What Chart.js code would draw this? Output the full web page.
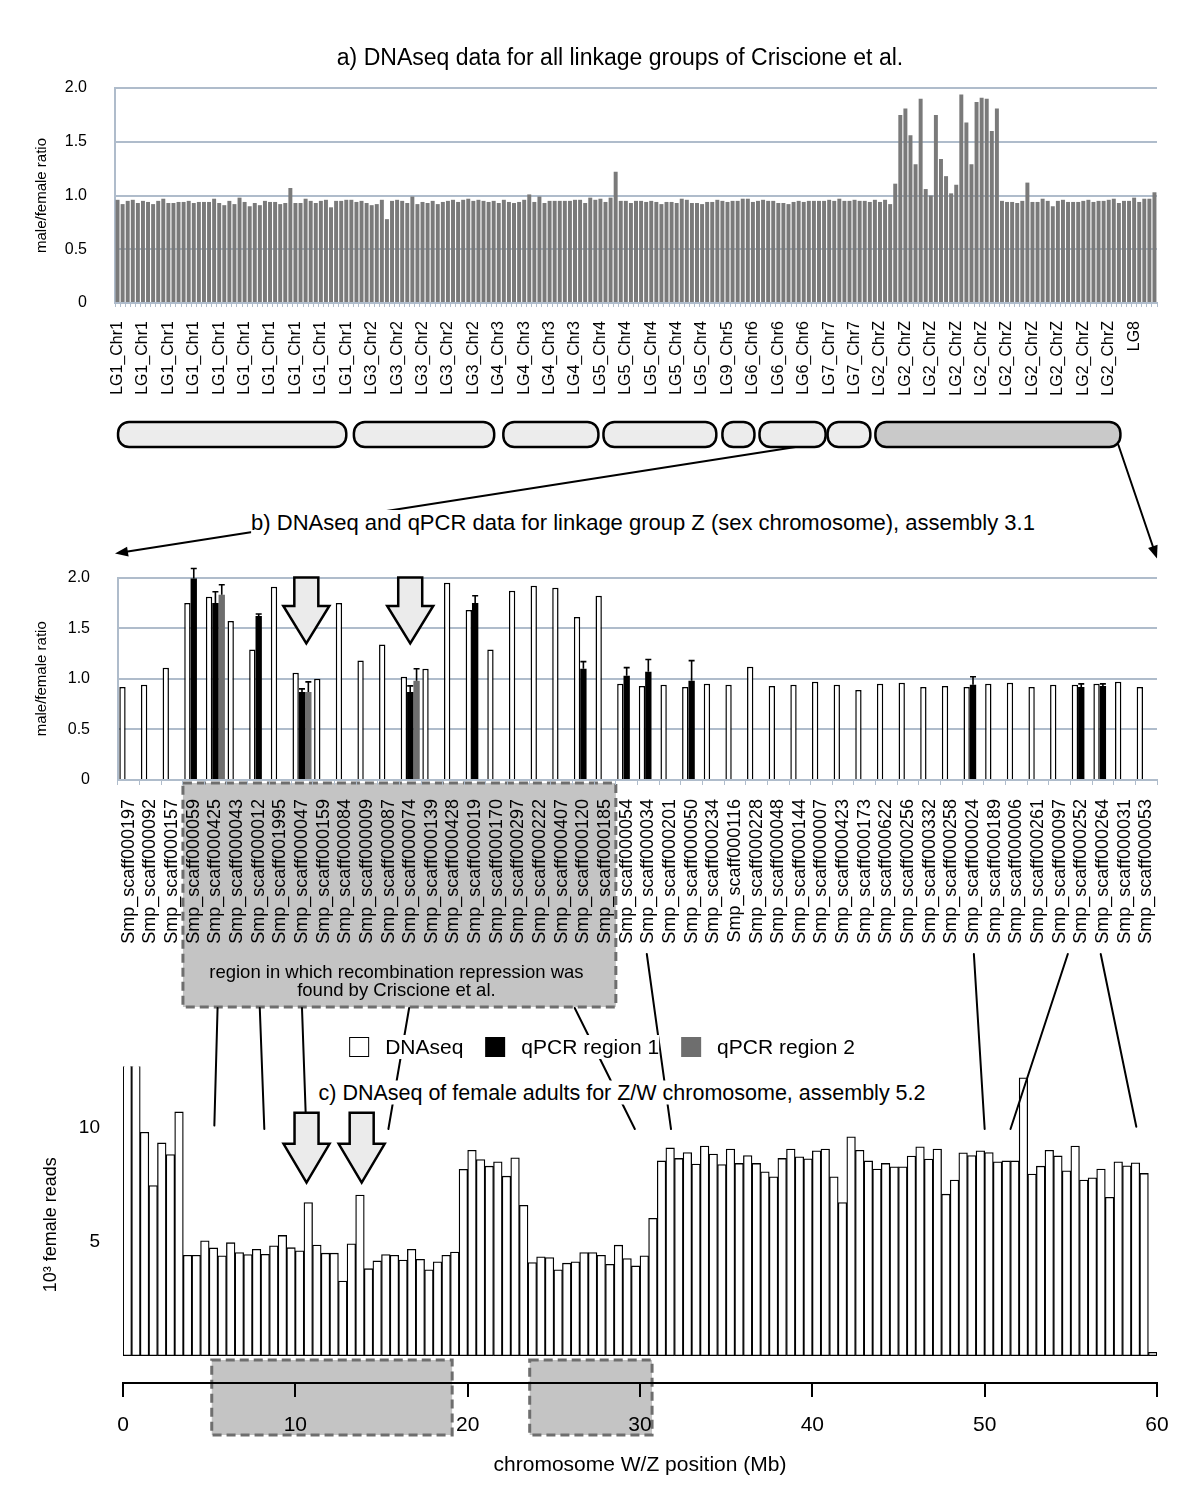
<!DOCTYPE html>
<html>
<head>
<meta charset="utf-8">
<script src="https://cdn.jsdelivr.net/npm/chart.js@4.4.0/dist/chart.umd.min.js"></script>
<style>
  body { margin: 0; background: #fff; font-family: "Liberation Sans", Arial, sans-serif; }
  #page { position: relative; width: 1200px; height: 1500px; overflow: hidden; }
  canvas { position: absolute; left: 0; }
  #overlay { z-index: 2; }
  .txt { position: absolute; transform: translate(-50%, -50%); white-space: nowrap; z-index: 3; font-size: 22px; color: #000; }
  .txt span { background: #fff; }
  .legend { display: flex; align-items: center; font-size: 21px; }
  .sw { display: inline-block; width: 20px; height: 20px; box-sizing: border-box; margin-right: 16px; }
  .item { display: flex; align-items: center; background: #fff; margin-right: 22px; }
</style>
</head>
<body>
<div id="page">
  <canvas id="chartA" width="1200" height="420" style="top:0px"></canvas>
  <canvas id="chartB" width="1200" height="480" style="top:540px"></canvas>
  <canvas id="chartC" width="1200" height="460" style="top:1040px"></canvas>
  <canvas id="overlay" width="1200" height="1500" style="top:0px"></canvas>

  <div class="txt" style="left:620px;top:57px;font-size:23px"><span>a) DNAseq data for all linkage groups of Criscione et al.</span></div>
  <div class="txt" style="left:643px;top:523px"><span>b) DNAseq and qPCR data for linkage group Z (sex chromosome), assembly 3.1</span></div>
  <div class="txt legend" style="left:602px;top:1047px">
    <div class="item"><i class="sw" style="background:#fff;border:1.5px solid #000"></i>DNAseq</div>
    <div class="item"><i class="sw" style="background:#000"></i>qPCR region 1</div>
    <div class="item" style="margin-right:0"><i class="sw" style="background:#6e6e6e"></i>qPCR region 2</div>
  </div>
  <div class="txt" style="left:622px;top:1093px;font-size:21.5px"><span>c) DNAseq of female adults for Z/W chromosome, assembly 5.2</span></div>
</div>

<script>
// ---- a) one label every 5 bars
const lgLabels = [
  'LG1_Chr1','LG1_Chr1','LG1_Chr1','LG1_Chr1','LG1_Chr1','LG1_Chr1','LG1_Chr1','LG1_Chr1','LG1_Chr1','LG1_Chr1',
  'LG3_Chr2','LG3_Chr2','LG3_Chr2','LG3_Chr2','LG3_Chr2',
  'LG4_Chr3','LG4_Chr3','LG4_Chr3','LG4_Chr3',
  'LG5_Chr4','LG5_Chr4','LG5_Chr4','LG5_Chr4','LG5_Chr4',
  'LG9_Chr5',
  'LG6_Chr6','LG6_Chr6','LG6_Chr6',
  'LG7_Chr7','LG7_Chr7',
  'LG2_ChrZ','LG2_ChrZ','LG2_ChrZ','LG2_ChrZ','LG2_ChrZ','LG2_ChrZ','LG2_ChrZ','LG2_ChrZ','LG2_ChrZ','LG2_ChrZ',
  'LG8'
];

// male/female ratio per contig (205 bars)
const ratioA = [
  0.96,0.92,0.95,0.96,0.93,0.95,0.94,0.92,0.95,0.97,
  0.93,0.93,0.94,0.94,0.95,0.93,0.94,0.94,0.94,0.97,
  0.93,0.91,0.95,0.92,0.98,0.94,0.90,0.93,0.91,0.95,
  0.94,0.94,0.92,0.93,1.07,0.93,0.93,0.97,0.95,0.93,
  0.95,0.96,0.89,0.95,0.95,0.96,0.96,0.94,0.95,0.93,
  0.91,0.92,0.96,0.78,0.95,0.96,0.95,0.93,0.99,0.92,
  0.94,0.93,0.95,0.92,0.94,0.95,0.96,0.94,
  0.96,0.97,0.95,0.96,0.95,0.94,0.95,0.93,0.96,0.94,
  0.93,0.94,0.96,1.01,0.94,0.99,0.93,0.95,0.95,0.95,
  0.95,0.95,0.96,0.96,0.93,0.98,0.96,0.97,0.94,0.98,
  1.22,0.95,0.95,0.93,0.95,
  0.95,0.94,0.95,0.94,0.92,0.94,0.94,0.93,0.97,0.96,
  0.93,0.93,0.92,0.94,0.94,0.96,0.95,0.94,0.95,0.95,
  0.97,0.97,0.94,0.95,0.96,0.95,0.95,0.93,0.93,0.92,
  0.94,0.95,0.94,0.95,0.95,0.95,0.95,0.96,0.95,0.97,
  0.95,0.95,0.96,0.95,0.95,0.94,0.96,0.94,0.96,0.92,
  1.11,1.75,1.81,1.56,1.29,1.90,1.06,1.00,1.75,1.34,1.18,1.02,1.10,1.94,1.68,1.29,1.87,1.91,1.90,1.60,1.81,
  0.95,0.94,0.94,0.93,0.95,1.12,
  0.94,0.94,0.97,0.95,0.90,0.95,0.96,0.94,0.94,0.94,0.95,0.96,0.94,0.95,0.95,0.96,0.97,0.93,0.95,0.95,0.98,0.94,0.97,0.97,1.03
];

// chromosome drawings under a), in bar-index units
const capsuleStart = [0.1, 46.5, 75.9, 95.6, 119, 126.3, 139.7, 149.1];
const capsuleEnd   = [45, 74.1, 94.6, 117.8, 125.3, 139.3, 148.1, 197.3];

// ---- b) scaffolds of linkage group Z
const scaffolds = [
  'Smp_scaff000197','Smp_scaff000092','Smp_scaff000157','Smp_scaff000059','Smp_scaff000425','Smp_scaff000043',
  'Smp_scaff000012','Smp_scaff001995','Smp_scaff000047','Smp_scaff000159','Smp_scaff000084','Smp_scaff000009',
  'Smp_scaff000087','Smp_scaff000074','Smp_scaff000139','Smp_scaff000428','Smp_scaff000019','Smp_scaff000170',
  'Smp_scaff000297','Smp_scaff000222','Smp_scaff000407','Smp_scaff000120','Smp_scaff000185','Smp_scaff000054',
  'Smp_scaff000034','Smp_scaff000201','Smp_scaff000050','Smp_scaff000234','Smp_scaff000116','Smp_scaff000228',
  'Smp_scaff000048','Smp_scaff000144','Smp_scaff000007','Smp_scaff000423','Smp_scaff000173','Smp_scaff000622',
  'Smp_scaff000256','Smp_scaff000332','Smp_scaff000258','Smp_scaff000024','Smp_scaff000189','Smp_scaff000006',
  'Smp_scaff000261','Smp_scaff000097','Smp_scaff000252','Smp_scaff000264','Smp_scaff000031','Smp_scaff000053'
];
const dnaseq = [
  0.92,0.94,1.11,1.75,1.81,1.57,1.29,1.91,1.06,1.00,1.75,1.18,1.34,1.02,1.10,1.95,1.68,1.29,1.87,1.92,1.90,1.61,1.82,
  0.95,0.93,0.94,0.92,0.95,0.94,1.12,0.93,0.94,0.97,0.94,0.89,0.95,0.96,0.92,0.93,0.92,0.95,0.96,0.92,0.94,0.94,0.95,0.97,0.92
];
const qpcr1 = [
  null,null,null,1.99,1.75,null,1.62,null,0.87,null,
  null,null,null,0.87,null,null,1.75,null,null,null,
  null,1.10,null,1.03,1.07,null,0.98,null,null,null,
  null,null,null,null,null,null,null,null,null,0.94,
  null,null,null,null,0.92,0.93,null,null
];
const qpcr1Err = [
  null,null,null,0.10,0.11,null,0.02,null,0.03,null,
  null,null,null,0.06,null,null,0.07,null,null,null,
  null,0.07,null,0.08,0.12,null,0.20,null,null,null,
  null,null,null,null,null,null,null,null,null,0.08,
  null,null,null,null,0.03,0.02,null,null
];
const qpcr2 = [
  null,null,null,null,1.83,null,null,null,0.87,null,
  null,null,null,0.98,null,null,null,null,null,null,
  null,null,null,null,null,null,null,null,null,null,
  null,null,null,null,null,null,null,null,null,null,
  null,null,null,null,null,null,null,null
];
const qpcr2Err = [
  null,null,null,null,0.10,null,null,null,0.10,null,
  null,null,null,0.12,null,null,null,null,null,null,
  null,null,null,null,null,null,null,null,null,null,
  null,null,null,null,null,null,null,null,null,null,
  null,null,null,null,null,null,null,null
];

// ---- c) female reads (10^3) in 0.5 Mb bins, 0-60 Mb
const femaleReads = [
  14,14,9.81,7.47,9.34,8.83,10.70,4.41,4.41,5.04,
  4.73,4.38,4.96,4.53,4.44,4.67,4.45,4.82,5.28,4.74,
  4.60,6.72,4.86,4.50,4.50,3.28,4.91,7.05,3.82,4.16,
  4.44,4.41,4.20,4.67,4.23,3.77,4.12,4.41,4.55,8.18,
  9.02,8.61,8.32,8.51,7.88,8.69,6.60,4.09,4.34,4.31,
  3.77,4.06,4.12,4.53,4.53,4.41,4.01,4.85,4.26,3.94,
  4.38,6.03,8.55,9.12,8.66,8.92,8.41,9.20,8.85,8.39,
  9.07,8.44,8.79,8.44,8.07,7.85,8.66,9.07,8.73,8.64,
  8.99,9.07,7.85,6.72,9.61,9.02,8.55,8.19,8.44,8.29,
  8.29,8.76,9.17,8.63,9.07,7.09,7.71,8.91,8.79,8.99,
  8.92,8.51,8.55,8.55,12.2,7.97,8.32,9.02,8.77,8.12,
  9.20,7.71,7.81,8.19,6.95,8.51,8.34,8.47,8.00,0.15
];
const cYTicks = [5, 10];

// annotations: shaded Mb ranges, arrows, links from b) scaffolds to c) positions
const shadeStartMb = [5.15, 23.6];
const shadeEndMb = [19.1, 30.7];
const arrowB = [8.2, 13];          // category index
const arrowC = [10.65, 13.85];     // Mb
const linkFromIdx = [4.1, 6.05, 8.0, 12.95, 20.6, 23.93, 39.04, 43.38, 44.9];
const linkToMb = [5.3, 8.2, 10.6, 15.4, 29.7, 31.8, 50.0, 51.5, 58.8];
const linkToVal = [10.1, 9.95, 10.66, 9.95, 9.95, 9.95, 9.95, 9.95, 10.05];

const fontFam = '"Liberation Sans", Arial, sans-serif';
Chart.defaults.font.family = fontFam;
Chart.defaults.color = '#000';
Chart.defaults.animation = false;
Chart.defaults.responsive = false;
Chart.defaults.plugins.legend.display = false;
Chart.defaults.plugins.tooltip.enabled = false;

const gridBlue = '#afbccb';
const ratioTick = v => v === 0 ? '0' : v.toFixed(1);

function downArrow(ctx, cx, yTop, yHead, yTip) {
  const sw = 24, hw = 46;
  ctx.save();
  ctx.beginPath();
  ctx.moveTo(cx - sw / 2, yTop);
  ctx.lineTo(cx + sw / 2, yTop);
  ctx.lineTo(cx + sw / 2, yHead);
  ctx.lineTo(cx + hw / 2, yHead);
  ctx.lineTo(cx, yTip);
  ctx.lineTo(cx - hw / 2, yHead);
  ctx.lineTo(cx - sw / 2, yHead);
  ctx.closePath();
  ctx.fillStyle = '#ebebeb';
  ctx.fill();
  ctx.lineWidth = 2.5;
  ctx.strokeStyle = '#000';
  ctx.stroke();
  ctx.restore();
}

function dashedBox(ctx, x0, y0, x1, y1) {
  ctx.save();
  ctx.fillStyle = '#c4c4c4';
  ctx.fillRect(x0, y0, x1 - x0, y1 - y0);
  ctx.setLineDash([9, 5]);
  ctx.lineWidth = 3;
  ctx.strokeStyle = '#6e6e6e';
  ctx.strokeRect(x0, y0, x1 - x0, y1 - y0);
  ctx.restore();
}

// ---------- chart a
const aLabels = ratioA.map((_, i) => i % 5 === 0 ? lgLabels[i / 5] : '');
const chartA = new Chart(document.getElementById('chartA'), {
  type: 'bar',
  data: {
    labels: aLabels,
    datasets: [{ data: ratioA, backgroundColor: '#7a7a7a', barPercentage: 0.78, categoryPercentage: 1 }]
  },
  options: {
    layout: { padding: { top: 88, left: 30, right: 43, bottom: 0 } },
    scales: {
      x: {
        grid: { drawOnChartArea: false, color: gridBlue, tickLength: 4 },
        border: { color: gridBlue, width: 2 },
        ticks: { autoSkip: false, minRotation: 90, maxRotation: 90, padding: 14, font: { size: 16 } },
        afterFit: s => { s.height = 117; }
      },
      y: {
        min: 0, max: 2,
        grid: { color: gridBlue, lineWidth: 2, drawTicks: false },
        border: { color: gridBlue, width: 2 },
        ticks: { stepSize: 0.5, padding: 28, font: { size: 16 }, callback: ratioTick },
        title: { display: true, text: 'male/female ratio', font: { size: 15 }, padding: { top: 3, bottom: 0 } },
        afterFit: s => { s.width = 85; }
      }
    }
  }
});

// ---------- chart b
const bExtras = {
  id: 'bExtras',
  beforeDraw(chart) {
    const { ctx, chartArea: a, scales: { x } } = chart;
    const x0 = x.getPixelForValue(2.5), x1 = x.getPixelForValue(22.5);
    dashedBox(ctx, x0, a.bottom + 3, x1, a.bottom + 227);
    ctx.save();
    ctx.font = '18.5px ' + fontFam;
    ctx.fillStyle = '#000';
    ctx.textAlign = 'center';
    ctx.textBaseline = 'middle';
    ctx.fillText('region in which recombination repression was', (x0 + x1) / 2 - 3, a.bottom + 193);
    ctx.fillText('found by Criscione et al.', (x0 + x1) / 2 - 3, a.bottom + 211);
    ctx.restore();
  },
  afterDatasetsDraw(chart) {
    const { ctx, scales: { x, y } } = chart;
    [[1, qpcr1, qpcr1Err], [2, qpcr2, qpcr2Err]].forEach(([di, vals, errs]) => {
      const meta = chart.getDatasetMeta(di);
      vals.forEach((v, i) => {
        if (v === null || errs[i] === null) return;
        const bx = meta.data[i].x, top = y.getPixelForValue(v), ye = y.getPixelForValue(v + errs[i]);
        ctx.save();
        ctx.strokeStyle = '#000';
        ctx.lineWidth = 1.6;
        ctx.beginPath();
        ctx.moveTo(bx, top); ctx.lineTo(bx, ye);
        ctx.moveTo(bx - 3, ye); ctx.lineTo(bx + 3, ye);
        ctx.stroke();
        ctx.restore();
      });
    });
    arrowB.forEach(idx => {
      downArrow(ctx, x.getPixelForValue(idx), y.getPixelForValue(2.0), y.getPixelForValue(1.72), y.getPixelForValue(1.35));
    });
  }
};

const chartB = new Chart(document.getElementById('chartB'), {
  type: 'bar',
  data: {
    labels: scaffolds,
    datasets: [
      { label: 'DNAseq', data: dnaseq, backgroundColor: '#fff', borderColor: '#000', borderWidth: 1.5 },
      { label: 'qPCR region 1', data: qpcr1, backgroundColor: '#000' },
      { label: 'qPCR region 2', data: qpcr2, backgroundColor: '#6e6e6e' }
    ]
  },
  options: {
    datasets: { bar: { barPercentage: 1, categoryPercentage: 0.88 } },
    layout: { padding: { top: 27, left: 30, right: 43, bottom: 0 } },
    scales: {
      x: {
        grid: { drawOnChartArea: false, color: gridBlue, tickLength: 5 },
        border: { color: gridBlue, width: 2 },
        ticks: { autoSkip: false, minRotation: 90, maxRotation: 90, padding: 14, font: { size: 18 } },
        afterFit: s => { s.height = 240; }
      },
      y: {
        min: 0, max: 2,
        grid: { color: gridBlue, lineWidth: 2, drawTicks: false },
        border: { color: gridBlue, width: 2 },
        ticks: { stepSize: 0.5, padding: 28, font: { size: 16 }, callback: ratioTick },
        title: { display: true, text: 'male/female ratio', font: { size: 15 }, padding: { top: 3, bottom: 0 } },
        afterFit: s => { s.width = 88; }
      }
    }
  },
  plugins: [bExtras]
});

// ---------- chart c
const cExtras = {
  id: 'cExtras',
  beforeDraw(chart) {
    const { ctx, chartArea: a, scales: { x } } = chart;
    shadeStartMb.forEach((s, k) => {
      dashedBox(ctx, x.getPixelForValue(s), a.bottom - 23, x.getPixelForValue(shadeEndMb[k]), a.bottom + 52);
    });
  },
  afterDatasetsDraw(chart) {
    const { ctx, scales: { x, y } } = chart;
    arrowC.forEach(mb => {
      downArrow(ctx, x.getPixelForValue(mb), y.getPixelForValue(10.66), y.getPixelForValue(9.3), y.getPixelForValue(7.6));
    });
  }
};

const chartC = new Chart(document.getElementById('chartC'), {
  type: 'bar',
  data: {
    datasets: [{
      data: femaleReads.map((v, i) => ({ x: i * 0.5 + 0.25, y: v })),
      backgroundColor: '#fff', borderColor: '#000', borderWidth: 1.3, borderSkipped: false,
      barPercentage: 1, categoryPercentage: 1
    }]
  },
  options: {
    layout: { padding: { top: 25, left: 38, right: 43, bottom: 0 } },
    scales: {
      x: {
        type: 'linear', min: 0, max: 60, offset: false,
        grid: { drawOnChartArea: false, offset: false, color: '#000', lineWidth: 2, tickLength: 14 },
        border: { color: '#000', width: 2 },
        ticks: { stepSize: 10, padding: 16, maxRotation: 0, font: { size: 21 } },
        title: { display: true, text: 'chromosome W/Z position (Mb)', font: { size: 21 }, padding: { top: 0, bottom: 22 } },
        afterFit: s => { s.height = 117; }
      },
      y: {
        min: -1.2, max: 12.7,
        grid: { display: false },
        border: { display: false },
        ticks: { padding: 15, font: { size: 19 } },
        afterBuildTicks: s => { s.ticks = cYTicks.map(v => ({ value: v })); },
        title: { display: true, text: '10³ female reads', font: { size: 18 }, padding: { top: 2, bottom: 0 } },
        afterFit: s => { s.width = 85; }
      }
    }
  },
  plugins: [cExtras]
});

// ---------- overlay: chromosomes, arrows and links between panels
const ov = document.getElementById('overlay').getContext('2d');
const offA = chartA.canvas.offsetTop, offB = chartB.canvas.offsetTop, offC = chartC.canvas.offsetTop;

function arrowLine(x0, y0, x1, y1) {
  const a = Math.atan2(y1 - y0, x1 - x0), L = 13, W = 5;
  ov.beginPath();
  ov.moveTo(x0, y0);
  ov.lineTo(x1 - 8 * Math.cos(a), y1 - 8 * Math.sin(a));
  ov.stroke();
  ov.beginPath();
  ov.moveTo(x1, y1);
  ov.lineTo(x1 - L * Math.cos(a) + W * Math.sin(a), y1 - L * Math.sin(a) - W * Math.cos(a));
  ov.lineTo(x1 - L * Math.cos(a) - W * Math.sin(a), y1 - L * Math.sin(a) + W * Math.cos(a));
  ov.closePath();
  ov.fill();
}

ov.strokeStyle = '#000';
ov.fillStyle = '#000';
ov.lineCap = 'round';

// chromosome bars under panel a
const xa = chartA.scales.x;
const capTop = offA + chartA.chartArea.bottom + 119, capH = 25;
capsuleStart.forEach((s, k) => {
  const x0 = xa.getPixelForValue(s), x1 = xa.getPixelForValue(capsuleEnd[k]);
  ov.beginPath();
  ov.roundRect(x0, capTop, x1 - x0, capH, 11);
  ov.fillStyle = k === capsuleStart.length - 1 ? '#c9c9c9' : '#ececec';
  ov.fill();
  ov.lineWidth = 2.5;
  ov.stroke();
});
ov.fillStyle = '#000';
ov.lineWidth = 2;

// zoom arrows from panel a to panel b
const bArea = chartB.chartArea;
arrowLine(xa.getPixelForValue(133.4), capTop + capH, bArea.left - 3, offB + bArea.top - 24);
arrowLine(xa.getPixelForValue(capsuleEnd[capsuleEnd.length - 1]) - 2, capTop + capH - 2, bArea.right, offB + bArea.top - 19);

// links from panel b scaffolds to panel c positions
const xb = chartB.scales.x, xc = chartC.scales.x, yc = chartC.scales.y;
linkFromIdx.forEach((idx, k) => {
  const depth = idx < 22.5 ? 228 : 174;
  ov.beginPath();
  ov.moveTo(xb.getPixelForValue(idx), offB + bArea.bottom + depth);
  ov.lineTo(xc.getPixelForValue(linkToMb[k]), offC + yc.getPixelForValue(linkToVal[k]));
  ov.stroke();
});
</script>
</body>
</html>
